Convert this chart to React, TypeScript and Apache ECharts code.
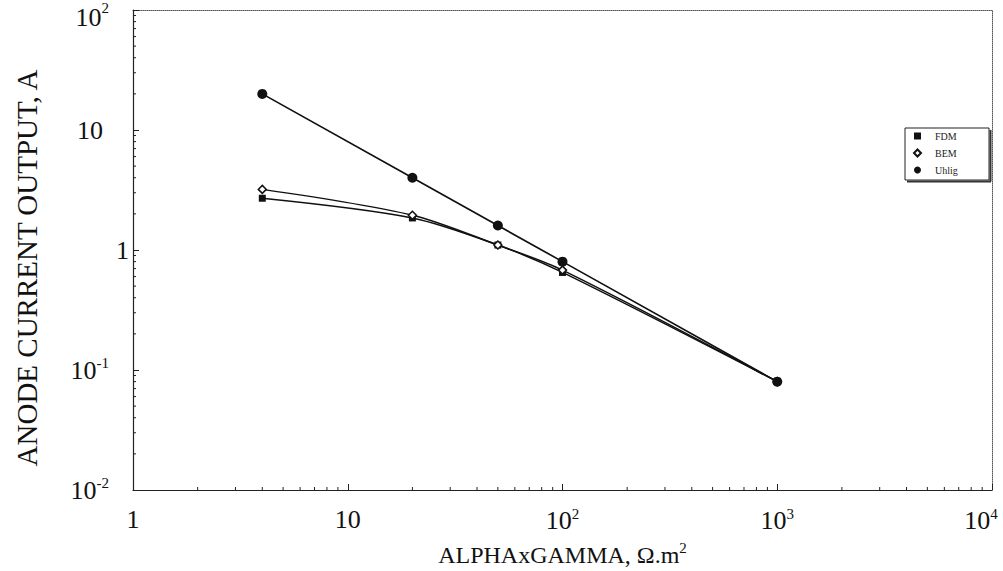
import React, { useEffect, useRef } from "react";
import * as echarts from "echarts";

const alphaGamma = [4, 20, 50, 100, 1000];
const fdm = [2.7, 1.85, 1.1, 0.65, 0.08];
const bem = [3.2, 1.95, 1.1, 0.68, 0.08];
const uhlig = [20, 4, 1.6, 0.8, 0.08];

const xTickLabels: Record<number, string> = { 0: "1", 1: "10", 2: "10{s|2}", 3: "10{s|3}", 4: "10{se|4}" };
const yTickLabels: Record<number, string> = { [-2]: "10{sp|-2}", [-1]: "10{sp|-1}", 0: "1", 1: "{n|10}", 2: "{t|10}{tsp|2}" };

const X_MIN = 1, X_MAX = 10000, Y_MIN = 0.01, Y_MAX = 100;
const FONT = "Liberation Serif";

function minorValues(lo: number, hi: number): number[] {
  const out: number[] = [];
  for (let e = Math.round(Math.log10(lo)); e < Math.round(Math.log10(hi)); e++) {
    for (let m = 2; m <= 9; m++) out.push(m * Math.pow(10, e));
  }
  return out;
}

export default function App() {
  const ref = useRef<HTMLDivElement>(null);
  useEffect(() => {
    if (!ref.current) return;
    const chart = echarts.init(ref.current, null, { renderer: "svg" });
    const supStyle = { fontSize: 15, verticalAlign: "top", padding: [0, 0, 14, 0], fontFamily: FONT, color: "#111" };
    const axisCommon = {
      type: "log" as const,
      logBase: 10,
      axisLine: { show: true, lineStyle: { color: "#222", width: 1.2 } },
      axisTick: { show: true, inside: true, length: 6, lineStyle: { color: "#222" } },
      splitLine: { show: false },
    };
    const sym = (data: number[]) => alphaGamma.map((x, i) => [x, data[i]]);
    const xMinor = minorValues(X_MIN, X_MAX);
    const yMinor = minorValues(Y_MIN, Y_MAX);
    chart.setOption({
      animation: false,
      backgroundColor: "#fff",
      grid: { left: 133, right: 11, top: 10, bottom: 81, containLabel: false, outerBoundsMode: "none" },
      graphic: [
        {
          type: "rect",
          shape: { x: 905, y: 128, width: 84, height: 52 },
          style: { fill: "#fff", stroke: "#222", lineWidth: 1 },
          z: 10,
        },
        {
          type: "line",
          shape: { x1: 990.5, y1: 130, x2: 990.5, y2: 181.5 },
          style: { stroke: "#333", lineWidth: 2 },
          z: 10,
        },
        {
          type: "line",
          shape: { x1: 907, y1: 181.5, x2: 991, y2: 181.5 },
          style: { stroke: "#333", lineWidth: 2 },
          z: 10,
        },
      ],
      legend: {
        orient: "vertical",
        left: 913,
        top: 131,
        data: [
          { name: "FDM", icon: "rect" },
          { name: "BEM", icon: "diamond" },
          { name: "Uhlig", icon: "circle" },
        ],
        itemWidth: 7,
        itemHeight: 7,
        itemGap: 7,
        padding: 0,
        z: 20,
        textStyle: { fontFamily: FONT, fontSize: 10, color: "#222", padding: [0, 0, 0, 9] },
      },
      xAxis: [
        {
          ...axisCommon,
          min: X_MIN,
          max: X_MAX,
          name: "ALPHAxGAMMA, Ω.m{s|2}",
          nameLocation: "middle",
          nameGap: 50,
          nameTextStyle: { fontFamily: FONT, fontSize: 24, color: "#111", rich: { s: { fontSize: 15, verticalAlign: "top", padding: [0, 0, 14, 0], fontFamily: FONT, color: "#111" } } },
          axisLabel: {
            margin: 16,
            fontFamily: FONT,
            fontSize: 26,
            color: "#111",
            rich: { s: supStyle, se: { ...supStyle, padding: [0, 22, 14, 0] } },
            formatter: (v: number) => xTickLabels[Math.round(Math.log10(v))] ?? "",
          },
        },
        {
          ...axisCommon,
          position: "top",
          min: X_MIN,
          max: X_MAX,
          axisLine: { show: true, lineStyle: { color: "#555", width: 1, type: "dotted" } },
          axisTick: { show: false },
          axisLabel: { show: false },
        },
      ],
      yAxis: [
        {
          ...axisCommon,
          min: Y_MIN,
          max: Y_MAX,
          name: "ANODE CURRENT OUTPUT, A",
          nameLocation: "middle",
          nameGap: 92,
          nameTextStyle: { fontFamily: FONT, fontSize: 29, color: "#111", padding: [0, 36, 0, 0] },
          axisLabel: {
            margin: 4,
            fontFamily: FONT,
            fontSize: 26,
            color: "#111",
            rich: {
              sp: { ...supStyle, padding: [0, 20, 14, 0] },
              n: { fontFamily: FONT, fontSize: 26, color: "#111", padding: [0, 26, 0, 0] },
              t: { fontFamily: FONT, fontSize: 26, color: "#111", padding: [14, 0, 0, 0] },
              tsp: { fontFamily: FONT, fontSize: 15, color: "#111", verticalAlign: "top", padding: [10, 20, 0, 0] },
            },
            formatter: (v: number) => yTickLabels[Math.round(Math.log10(v))] ?? "",
          },
        },
        {
          ...axisCommon,
          position: "right",
          min: Y_MIN,
          max: Y_MAX,
          axisLine: { show: true, lineStyle: { color: "#555", width: 1, type: "dotted" } },
          axisTick: { show: false },
          axisLabel: { show: false },
        },
      ],
      series: [
        {
          name: "FDM",
          type: "line",
          data: sym(fdm),
          smooth: 0.3,
          symbol: "rect",
          symbolSize: 7,
          itemStyle: { color: "#111" },
          lineStyle: { color: "#111", width: 1.5 },
          z: 3,
        },
        {
          name: "BEM",
          type: "line",
          data: sym(bem),
          smooth: 0.3,
          symbol: "diamond",
          symbolSize: 8,
          itemStyle: { color: "#fff", borderColor: "#111", borderWidth: 1.5 },
          lineStyle: { color: "#111", width: 1.5 },
          z: 4,
        },
        {
          name: "Uhlig",
          type: "line",
          data: sym(uhlig),
          symbol: "circle",
          symbolSize: 10,
          itemStyle: { color: "#111" },
          lineStyle: { color: "#111", width: 1.7 },
          z: 5,
        },
        {
          type: "custom",
          silent: true,
          data: xMinor.map((v) => [v, Y_MIN]),
          renderItem: (_p: any, api: any) => {
            const pt = api.coord([api.value(0), Y_MIN]);
            return { type: "line", shape: { x1: pt[0], y1: pt[1], x2: pt[0], y2: pt[1] - 3 }, style: { stroke: "#222", lineWidth: 1 } };
          },
          clip: false,
          z: 2,
        },
        {
          type: "custom",
          silent: true,
          data: yMinor.map((v) => [X_MIN, v]),
          renderItem: (_p: any, api: any) => {
            const pt = api.coord([X_MIN, api.value(1)]);
            return { type: "line", shape: { x1: pt[0], y1: pt[1], x2: pt[0] + 3, y2: pt[1] }, style: { stroke: "#222", lineWidth: 1 } };
          },
          clip: false,
          z: 2,
        },
      ],
    });
    return () => chart.dispose();
  }, []);
  return <div ref={ref} style={{ width: 1003, height: 571, position: "absolute", left: 0, top: 0 }} />;
}
